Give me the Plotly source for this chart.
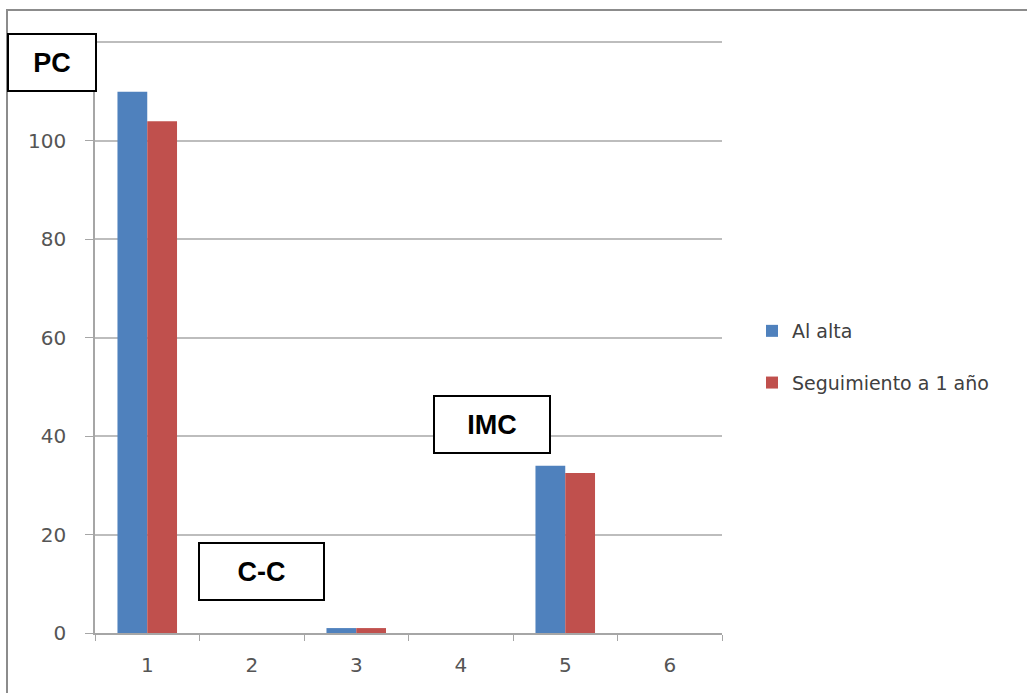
import plotly.graph_objects as go

categories = ["1", "2", "3", "4", "5", "6"]
al_alta = [110, 0, 1, 0, 34, 0]
seguimiento = [104, 0, 1, 0, 32.5, 0]
y_ticks = [0, 20, 40, 60, 80, 100, 120]

fig = go.Figure()
fig.add_trace(go.Bar(x=categories, y=al_alta, name="Al alta",
                     marker=dict(color="#4F81BD", line=dict(width=0)),
                     legendgroup="a"))
fig.add_trace(go.Bar(x=categories, y=seguimiento, name="Seguimiento a 1 año",
                     marker=dict(color="#C0504D", line=dict(width=0)),
                     legendgroup="b"))

W, H = 1027, 693
L, R, T, B = 95, 305, 41, 60
pw, ph = W - L - R, H - T - B


def px(x):
    return (x - L) / pw


def py(y):
    return (H - B - y) / ph


tick_font = dict(family="DejaVu Sans, sans-serif", size=20, color="#555555")

fig.update_layout(
    width=W, height=H,
    margin=dict(l=L, r=R, t=T, b=B),
    paper_bgcolor="white", plot_bgcolor="white",
    barmode="group", bargap=0.43, bargroupgap=0,
    font=dict(family="DejaVu Sans, sans-serif", size=16, color="#595959"),
    showlegend=True,
    legend=dict(x=px(752), y=py(312), xanchor="left", yanchor="top",
                font=dict(family="DejaVu Sans, sans-serif", size=19, color="#404040"),
                tracegroupgap=24, itemwidth=30, bgcolor="rgba(0,0,0,0)"),
    xaxis=dict(type="category", showgrid=False, showline=True, linecolor="#a6a6a6",
               linewidth=1.5, ticks="outside", tickson="boundaries", ticklen=6,
               tickcolor="#a6a6a6", tickfont=tick_font, ticklabelstandoff=13),
    yaxis=dict(range=[0, 120.3], tickvals=y_ticks, showgrid=True, gridcolor="#bdbdbd",
               gridwidth=1.5, showline=True, linecolor="#a6a6a6", linewidth=1.5,
               ticks="outside", ticklen=8, tickcolor="#a6a6a6", zeroline=False,
               tickfont=tick_font, ticklabelstandoff=15),
)

# outer chart frame
fig.add_shape(type="rect", xref="paper", yref="paper",
              x0=px(7), x1=px(1040), y0=py(710), y1=py(10),
              line=dict(color="#8c8c8c", width=2), fillcolor="rgba(0,0,0,0)", layer="below")

boxes = [("PC", 52, 62, 86), ("C-C", 261, 571, 123), ("IMC", 492, 424, 114)]
for text, cx, cy, bw in boxes:
    fig.add_annotation(text=f"<b>{text}</b>", xref="paper", yref="paper",
                       x=px(cx), y=py(cy), xanchor="center", yanchor="middle",
                       showarrow=False,
                       font=dict(family="Liberation Sans, Arial, sans-serif", size=27, color="black"),
                       width=bw, height=55, borderpad=0, bgcolor="white",
                       bordercolor="black", borderwidth=2)

fig.write_html("out.html")
